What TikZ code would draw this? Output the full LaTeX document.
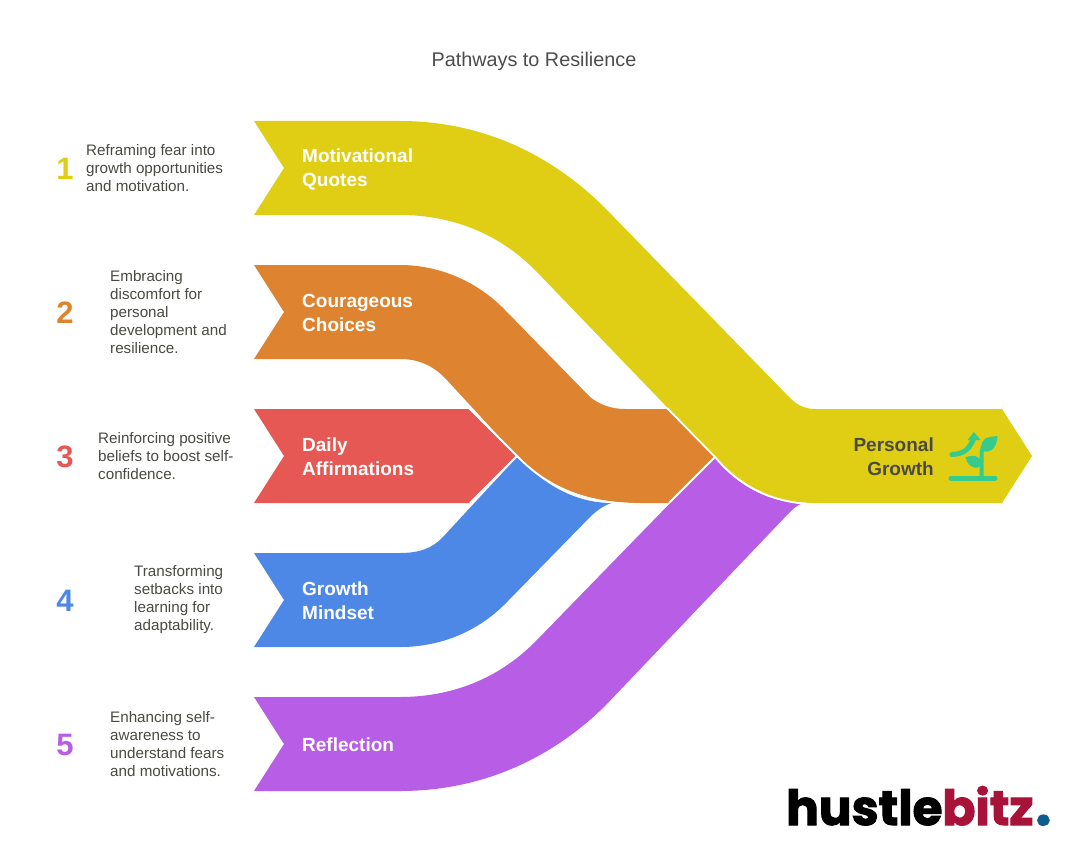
\documentclass[tikz,border=0pt]{standalone}
\usepackage{fontspec}
\setmainfont{Liberation Sans}
\newfontfamily\logofont{Poppins}[BoldFeatures={FakeBold=2.2}]
\definecolor{cyel}{HTML}{DFCE13}
\definecolor{cora}{HTML}{DE8431}
\definecolor{cred}{HTML}{E65853}
\definecolor{cblu}{HTML}{4E88E7}
\definecolor{cpur}{HTML}{B75DE6}
\definecolor{ctxt}{HTML}{4A4A44}
\definecolor{cicon}{HTML}{34CB8D}
\definecolor{ctitle}{HTML}{4D4D4D}
\definecolor{cbit}{HTML}{A8133A}
\definecolor{cdot}{HTML}{0F5C8E}
\tikzset{
 seam/.style={draw=white,line width=1.8pt},
 lab/.style={font=\bfseries\fontsize{19}{24}\selectfont,text=white,align=left,anchor=west,inner sep=0pt},
 num/.style={font=\bfseries\fontsize{31}{34}\selectfont,anchor=center,inner sep=0pt},
 desc/.style={font=\fontsize{15.2}{18}\selectfont,text=ctxt,align=left,anchor=west,inner sep=0pt},
 iconline/.style={draw=cicon,line width=5pt,line cap=round,line join=round},
 logo/.style={font=\logofont\bfseries\fontsize{48.5}{52}\selectfont,inner sep=0pt,anchor=base west}
}
\begin{document}
\begin{tikzpicture}[x=1pt,y=-1pt]
\useasboundingbox[fill=white] (0,0) rectangle (1068,864);
\node[font=\fontsize{19.8}{24}\selectfont,text=ctitle,inner sep=0pt] (title) at (534,61) {Pathways to Resilience};
% purple
\fill[cpur] (254,697) -- (400,697) .. controls (450,697) and (497,680) .. (535,642) -- (715,457)
 .. controls (735,485) and (770,503) .. (803,503) .. controls (797,505) and (792,510) .. (788,514)
 -- (605,706) .. controls (550,760) and (480,791) .. (400,791) -- (254,791) -- (284,744) -- cycle;
% blue
\fill[cblu] (254,553) -- (400,553) .. controls (420,553) and (432,548) .. (442,538) -- (517,457)
 .. controls (545,485) and (575,503) .. (612,503) .. controls (604,505) and (598,510) .. (592,515)
 -- (507,602) .. controls (478,632) and (440,647) .. (400,647) -- (254,647) -- (284,600) -- cycle;
% red
\fill[cred] (254,409) -- (470,409) -- (517,456) -- (470,503) -- (254,503) -- (284,456) -- cycle;
\draw[seam] (470,503) -- (517,456);
% orange
\fill[cora] (254,265) -- (400,265) .. controls (440,265) and (478,282) .. (505,310) -- (590,397)
 .. controls (600,405) and (612,409) .. (625,409) -- (668,409) -- (715,457) -- (669,503) -- (640,503)
 .. controls (590,503) and (550,490) .. (517,456) -- (445,378) .. controls (432,365) and (418,359) .. (400,359)
 -- (254,359) -- (284,312) -- cycle;
\draw[seam] (469,408) -- (517,456) .. controls (550,490) and (590,504) .. (640,504);
\draw[seam] (669,503) -- (715,457);
% yellow
\fill[cyel] (254,121) -- (400,121) .. controls (480,121) and (550,153) .. (605,208) -- (790,398)
 .. controls (797,405) and (805,409) .. (815,409) -- (1002,409) -- (1032,456) -- (1002,503) -- (815,503)
 .. controls (775,503) and (740,487) .. (715,457) -- (535,270) .. controls (497,232) and (450,215) .. (400,215)
 -- (254,215) -- (284,168) -- cycle;
\draw[seam] (667,408) -- (715,457) .. controls (740,487) and (775,504) .. (815,504);
% band labels
\node[lab] (l1) at (302,169) {Motivational\\Quotes};
\node[lab] (l2) at (302,312.5) {Courageous\\Choices};
\node[lab] (l3) at (302,456.5) {Daily\\Affirmations};
\node[lab] (l4) at (302,600.5) {Growth\\Mindset};
\node[lab] (l5) at (302,744.5) {Reflection};
\node[lab,text=ctxt,align=right,anchor=east] (l6) at (934,456.5) {Personal\\Growth};
% icon
\draw[iconline] (952,454.5) .. controls (966,454) and (970,447) .. (974,438);
\fill[cicon] (967.5,440) -- (974,432) -- (980.5,440) -- cycle;
\draw[iconline] (951,478) -- (995,478);
\draw[draw=cicon,line width=4pt,line cap=round] (981.5,478) -- (981.5,455) .. controls (981.5,450) and (983,446) .. (985,443);
\fill[cicon] (982,449) .. controls (980,438) and (987,437) .. (997.5,436) .. controls (997,445) and (993,454) .. (982,451) -- cycle;
\fill[cicon] (981,463) .. controls (981,470) and (968,470) .. (965.5,457) .. controls (972,455) and (981,455) .. (981,463) -- cycle;
% numbers
\node[num,text=cyel] (n1) at (65,169) {1};
\node[num,text=cora] (n2) at (65,313) {2};
\node[num,text=cred] (n3) at (65,457) {3};
\node[num,text=cblu] (n4) at (65,601) {4};
\node[num,text=cpur] (n5) at (65,745) {5};
% descriptions
\node[desc] (d1) at (86,168) {Reframing fear into\\growth opportunities\\and motivation.};
\node[desc] (d2) at (110,312) {Embracing\\discomfort for\\personal\\development and\\resilience.};
\node[desc] (d3) at (98,456) {Reinforcing positive\\beliefs to boost self-\\confidence.};
\node[desc] (d4) at (134,600) {Transforming\\setbacks into\\learning for\\adaptability.};
\node[desc] (d5) at (110,744) {Enhancing self-\\awareness to\\understand fears\\and motivations.};
% logo
\node[logo] (logo) at (786,825) {hustle\textcolor{cbit}{bitz}\kern2pt\textcolor{cdot}{\fontsize{56}{56}\selectfont.}};
\end{tikzpicture}
\end{document}
